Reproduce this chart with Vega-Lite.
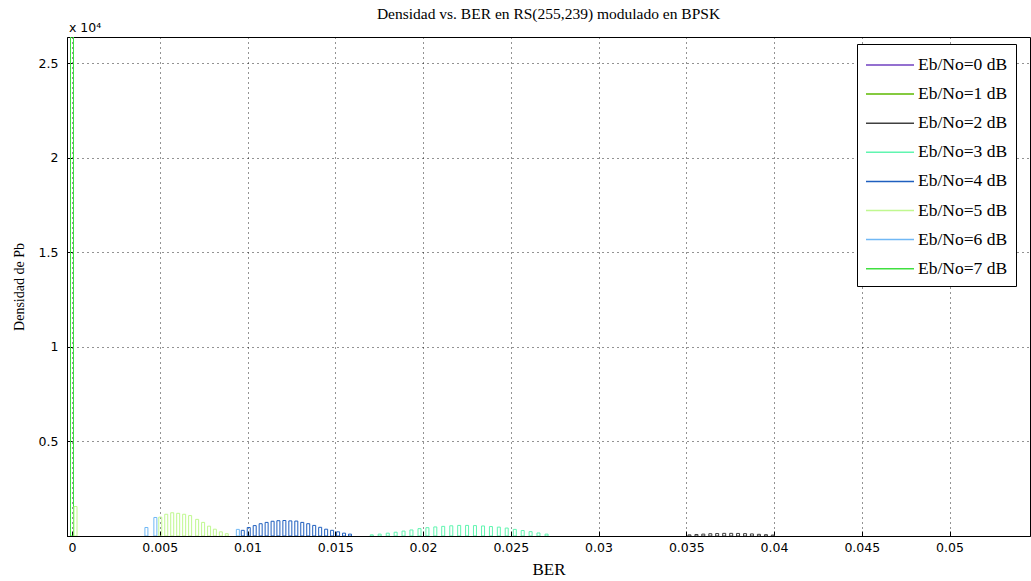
{
  "$schema": "https://vega.github.io/schema/vega-lite/v6.json",
  "width": 963,
  "height": 499,
  "autosize": {"type": "none"},
  "padding": {"left": 67, "top": 37, "right": 1, "bottom": 45},
  "background": "white",
  "title": {
    "text": "Densidad vs. BER en RS(255,239) modulado en BPSK",
    "font": "Liberation Serif",
    "fontSize": 15.5,
    "fontWeight": "normal",
    "color": "black",
    "offset": 0,
    "anchor": "middle",
    "frame": "group"
  },
  "config": {
    "view": {"stroke": "black", "strokeWidth": 1},
    "axis": {
      "domainColor": "black",
      "tickColor": "black",
      "labelColor": "black",
      "titleColor": "black",
      "labelFont": "DejaVu Sans",
      "labelFontSize": 12.5,
      "titleFont": "Liberation Serif",
      "titleFontWeight": "normal",
      "grid": true,
      "gridColor": "#000000",
      "gridDash": [1, 4],
      "gridOpacity": 0.85,
      "tickSize": -5
    }
  },
  "datasets": {
    "bins": [
      {"serie": "Eb/No=7 dB", "ber": 0.0, "dens": 26400},
      {"serie": "Eb/No=5 dB", "ber": 0.0002, "dens": 1560},
      {"serie": "Eb/No=6 dB", "ber": 0.00424, "dens": 450},
      {"serie": "Eb/No=6 dB", "ber": 0.00475, "dens": 980},
      {"serie": "Eb/No=6 dB", "ber": 0.00945, "dens": 350},
      {"serie": "Eb/No=5 dB", "ber": 0.00503, "dens": 1000},
      {"serie": "Eb/No=5 dB", "ber": 0.00537, "dens": 1150},
      {"serie": "Eb/No=5 dB", "ber": 0.00571, "dens": 1230},
      {"serie": "Eb/No=5 dB", "ber": 0.00605, "dens": 1200},
      {"serie": "Eb/No=5 dB", "ber": 0.00639, "dens": 1150},
      {"serie": "Eb/No=5 dB", "ber": 0.00673, "dens": 1080},
      {"serie": "Eb/No=5 dB", "ber": 0.00713, "dens": 880},
      {"serie": "Eb/No=5 dB", "ber": 0.00747, "dens": 720},
      {"serie": "Eb/No=5 dB", "ber": 0.00781, "dens": 520},
      {"serie": "Eb/No=5 dB", "ber": 0.00814, "dens": 360},
      {"serie": "Eb/No=5 dB", "ber": 0.00848, "dens": 220},
      {"serie": "Eb/No=5 dB", "ber": 0.00882, "dens": 120},
      {"serie": "Eb/No=4 dB", "ber": 0.00973, "dens": 300},
      {"serie": "Eb/No=4 dB", "ber": 0.01007, "dens": 450},
      {"serie": "Eb/No=4 dB", "ber": 0.01041, "dens": 550},
      {"serie": "Eb/No=4 dB", "ber": 0.01075, "dens": 650},
      {"serie": "Eb/No=4 dB", "ber": 0.01109, "dens": 720},
      {"serie": "Eb/No=4 dB", "ber": 0.01143, "dens": 780},
      {"serie": "Eb/No=4 dB", "ber": 0.01176, "dens": 810},
      {"serie": "Eb/No=4 dB", "ber": 0.0121, "dens": 820},
      {"serie": "Eb/No=4 dB", "ber": 0.01244, "dens": 800},
      {"serie": "Eb/No=4 dB", "ber": 0.01278, "dens": 790},
      {"serie": "Eb/No=4 dB", "ber": 0.01312, "dens": 720},
      {"serie": "Eb/No=4 dB", "ber": 0.01346, "dens": 650},
      {"serie": "Eb/No=4 dB", "ber": 0.0138, "dens": 560},
      {"serie": "Eb/No=4 dB", "ber": 0.01414, "dens": 460},
      {"serie": "Eb/No=4 dB", "ber": 0.01448, "dens": 360},
      {"serie": "Eb/No=4 dB", "ber": 0.01482, "dens": 300},
      {"serie": "Eb/No=4 dB", "ber": 0.01516, "dens": 220},
      {"serie": "Eb/No=4 dB", "ber": 0.0155, "dens": 150},
      {"serie": "Eb/No=4 dB", "ber": 0.01584, "dens": 100},
      {"serie": "Eb/No=3 dB", "ber": 0.01708, "dens": 60},
      {"serie": "Eb/No=3 dB", "ber": 0.01753, "dens": 100},
      {"serie": "Eb/No=3 dB", "ber": 0.01799, "dens": 150},
      {"serie": "Eb/No=3 dB", "ber": 0.01844, "dens": 200},
      {"serie": "Eb/No=3 dB", "ber": 0.01889, "dens": 260},
      {"serie": "Eb/No=3 dB", "ber": 0.01934, "dens": 320},
      {"serie": "Eb/No=3 dB", "ber": 0.0198, "dens": 390},
      {"serie": "Eb/No=3 dB", "ber": 0.02025, "dens": 440},
      {"serie": "Eb/No=3 dB", "ber": 0.0207, "dens": 480},
      {"serie": "Eb/No=3 dB", "ber": 0.02115, "dens": 510},
      {"serie": "Eb/No=3 dB", "ber": 0.02161, "dens": 540},
      {"serie": "Eb/No=3 dB", "ber": 0.02206, "dens": 560},
      {"serie": "Eb/No=3 dB", "ber": 0.02251, "dens": 560},
      {"serie": "Eb/No=3 dB", "ber": 0.02296, "dens": 550},
      {"serie": "Eb/No=3 dB", "ber": 0.02342, "dens": 530},
      {"serie": "Eb/No=3 dB", "ber": 0.02387, "dens": 500},
      {"serie": "Eb/No=3 dB", "ber": 0.02432, "dens": 470},
      {"serie": "Eb/No=3 dB", "ber": 0.02477, "dens": 420},
      {"serie": "Eb/No=3 dB", "ber": 0.02523, "dens": 350},
      {"serie": "Eb/No=3 dB", "ber": 0.02568, "dens": 290},
      {"serie": "Eb/No=3 dB", "ber": 0.02613, "dens": 230},
      {"serie": "Eb/No=3 dB", "ber": 0.02658, "dens": 160},
      {"serie": "Eb/No=3 dB", "ber": 0.02704, "dens": 100},
      {"serie": "Eb/No=2 dB", "ber": 0.03518, "dens": 60},
      {"serie": "Eb/No=2 dB", "ber": 0.03558, "dens": 80},
      {"serie": "Eb/No=2 dB", "ber": 0.03597, "dens": 100},
      {"serie": "Eb/No=2 dB", "ber": 0.03637, "dens": 120},
      {"serie": "Eb/No=2 dB", "ber": 0.03676, "dens": 130},
      {"serie": "Eb/No=2 dB", "ber": 0.03716, "dens": 140},
      {"serie": "Eb/No=2 dB", "ber": 0.03756, "dens": 140},
      {"serie": "Eb/No=2 dB", "ber": 0.03795, "dens": 135},
      {"serie": "Eb/No=2 dB", "ber": 0.03835, "dens": 125},
      {"serie": "Eb/No=2 dB", "ber": 0.03874, "dens": 110},
      {"serie": "Eb/No=2 dB", "ber": 0.03914, "dens": 90},
      {"serie": "Eb/No=2 dB", "ber": 0.03954, "dens": 70},
      {"serie": "Eb/No=2 dB", "ber": 0.03993, "dens": 50}
    ],
    "note": [{"x": 0, "y": 26400, "t": "x 10⁴"}]
  },
  "layer": [
    {
      "data": {"name": "bins"},
      "mark": {"type": "bar", "filled": false, "size": 3, "strokeWidth": 1, "clip": true},
      "encoding": {
        "x": {
          "field": "ber",
          "type": "quantitative",
          "title": "BER",
          "scale": {"domain": [0, 0.0543], "nice": false, "zero": false},
          "axis": {
            "values": [0, 0.005, 0.01, 0.015, 0.02, 0.025, 0.03, 0.035, 0.04, 0.045, 0.05],
            "labelExpr": "datum.value + ''",
            "labelPadding": 10,
            "titlePadding": 8,
            "titleFontSize": 17
          }
        },
        "y": {
          "field": "dens",
          "type": "quantitative",
          "title": "Densidad de Pb",
          "scale": {"domain": [0, 26400], "nice": false},
          "axis": {
            "values": [0, 5000, 10000, 15000, 20000, 25000],
            "labelExpr": "datum.value == 0 ? '' : (datum.value / 10000) + ''",
            "labelPadding": 14,
            "titlePadding": 12,
            "titleFontSize": 14
          }
        },
        "color": {
          "field": "serie",
          "type": "nominal",
          "scale": {
            "domain": ["Eb/No=0 dB", "Eb/No=1 dB", "Eb/No=2 dB", "Eb/No=3 dB", "Eb/No=4 dB", "Eb/No=5 dB", "Eb/No=6 dB", "Eb/No=7 dB"],
            "range": ["#7040c0", "#5cb800", "#404040", "#60f5b0", "#1f5fbf", "#c0f890", "#70b8f5", "#40e040"]
          },
          "legend": {
            "title": null,
            "orient": "none",
            "legendX": 790,
            "legendY": 7,
            "symbolType": "M-2,0H2",
            "symbolSize": 576,
            "symbolStrokeWidth": 1.5,
            "symbolOffset": 12,
            "rowPadding": 7.1,
            "labelFont": "Liberation Serif",
            "labelFontSize": 17.5,
            "labelColor": "black",
            "strokeColor": "black",
            "fillColor": "white",
            "padding": 8,
            "labelOffset": 15
          }
        }
      }
    },
    {
      "data": {"name": "note"},
      "mark": {"type": "text", "align": "left", "baseline": "bottom", "dx": -3, "dy": -2, "font": "DejaVu Sans", "fontSize": 12.5, "color": "black", "clip": false},
      "encoding": {
        "x": {"field": "x", "type": "quantitative"},
        "y": {"field": "y", "type": "quantitative"},
        "text": {"field": "t"}
      }
    }
  ]
}
